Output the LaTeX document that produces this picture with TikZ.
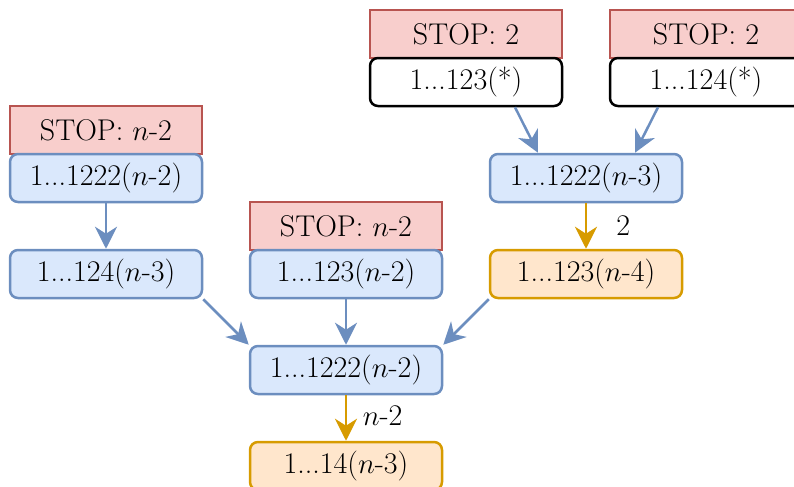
\documentclass[tikz,border=0pt]{standalone}
\usetikzlibrary{arrows.meta}
\definecolor{bfill}{HTML}{DAE8FC}
\definecolor{bline}{HTML}{6C8EBF}
\definecolor{rfill}{HTML}{F8CECC}
\definecolor{rline}{HTML}{B85450}
\definecolor{ofill}{HTML}{FFE6CC}
\definecolor{oline}{HTML}{D79B00}
\tikzset{
  box/.style={draw, line width=1.25pt, minimum width=96pt, minimum height=24pt, inner sep=0pt,
    font=\fontsize{15}{18}\selectfont},
  bluebox/.style={box, rounded corners=4pt, fill=bfill, draw=bline},
  orangebox/.style={box, rounded corners=4pt, fill=ofill, draw=oline},
  whitebox/.style={box, rounded corners=4pt, fill=white, draw=black},
  stopbox/.style={box, fill=rfill, draw=rline},
  arr/.style={line width=1.25pt, -{Stealth[length=11pt, width=11pt, inset=3.5pt]}},
  barr/.style={arr, draw=bline, fill=bline},
  oarr/.style={arr, draw=oline, fill=oline},
  lbl/.style={font=\fontsize{15}{18}\selectfont, inner sep=0pt}
}
\begin{document}
\begin{tikzpicture}[x=0.5pt, y=-0.5pt]
\useasboundingbox (0,0) rectangle (794,487);
% left column
\node[stopbox] (stopL) at (106,130) {STOP: $n$-2};
\node[bluebox] (aL) at (106,178) {1...1222($n$-2)};
\node[bluebox] (b124) at (106,274) {1...124($n$-3)};
% middle column
\node[stopbox] (stopM) at (346,226) {STOP: $n$-2};
\node[bluebox] (b123) at (346,274) {1...123($n$-2)};
\node[bluebox] (cen) at (346,370) {1...1222($n$-2)};
\node[orangebox] (b14) at (346,466) {1...14($n$-3)};
% top right
\node[stopbox] (stopA) at (466,34) {STOP: 2};
\node[whitebox] (s123) at (466,82) {1...123(*)};
\node[stopbox] (stopB) at (706,34) {STOP: 2};
\node[whitebox] (s124) at (706,82) {1...124(*)};
\node[bluebox] (aR) at (586,178) {1...1222($n$-3)};
\node[orangebox] (b123b) at (586,274) {1...123($n$-4)};
% connectors
\draw[barr] (aL.south) -- (b124.north);
\draw[barr] (b124.south east) -- (cen.north west);
\draw[barr] (b123.south) -- (cen.north);
\draw[barr] (b123b.south west) -- (cen.north east);
\draw[barr] ([xshift=24.5pt]s123.south) -- ([xshift=-24pt]aR.north);
\draw[barr] ([xshift=-24pt]s124.south) -- ([xshift=24.5pt]aR.north);
\draw[oarr] (aR.south) -- node[lbl, right, xshift=14.5pt] {2} (b123b.north);
\draw[oarr] (cen.south) -- node[lbl, right, xshift=7.8pt, yshift=1pt] {$n$-2} (b14.north);
\end{tikzpicture}
\end{document}
